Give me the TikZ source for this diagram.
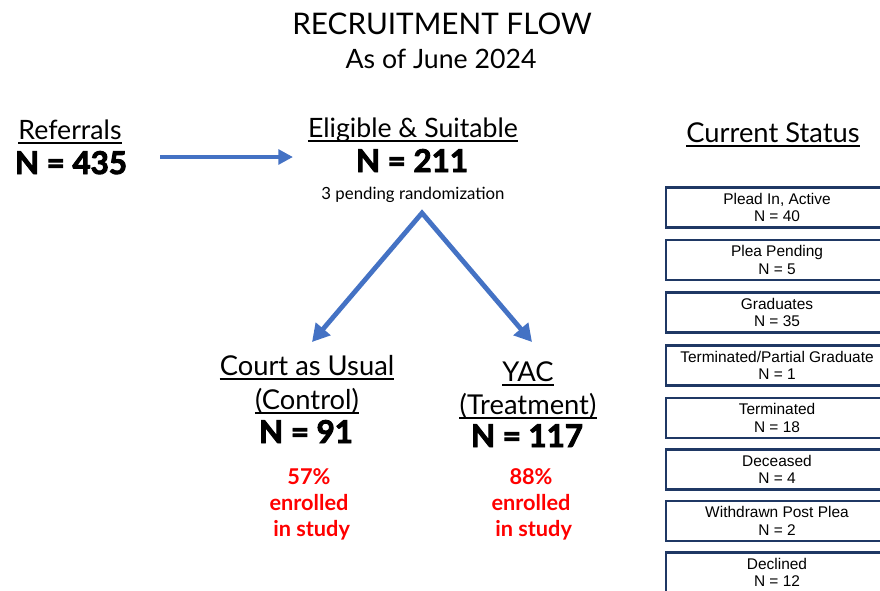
\documentclass[tikz,border=0pt]{standalone}
\usepackage{fontspec}
\setmainfont{Lato}
\newfontfamily\heavyfont{Lato}[BoldFeatures={FakeBold=3}]
\newfontfamily\arialf{Liberation Sans}
\usetikzlibrary{arrows.meta}
\definecolor{arrowblue}{HTML}{4472C4}
\definecolor{boxnavy}{HTML}{1F3864}
\definecolor{redtxt}{HTML}{FF0000}
\begin{document}
\begin{tikzpicture}[x=0.75pt,y=-0.75pt,
  titletext/.style={font=\fontsize{22.3}{25}\selectfont, inner sep=0, anchor=base},
  headtext/.style={font=\fontsize{20.5}{24}\selectfont, inner sep=0, anchor=base},
  counttext/.style={font=\heavyfont\fontsize{23.5}{27}\selectfont\bfseries, inner sep=0, anchor=base},
  notetext/.style={font=\fontsize{12.6}{15}\selectfont, inner sep=0, anchor=base},
  pcttext/.style={font=\fontsize{16.3}{19.5}\selectfont\bfseries, text=redtxt, align=center, inner sep=0, anchor=base},
  statusbox/.style={draw=boxnavy, line width=1.9pt, minimum width=166.5pt, minimum height=30pt, align=center, font=\arialf\fontsize{11.6}{13}\selectfont, inner sep=0},
  flowline/.style={draw=arrowblue, line width=3pt, -{Triangle[length=11pt,width=11pt]}},
  splitline/.style={draw=arrowblue, line width=3.6pt, line join=miter, {Triangle[length=13pt,width=14pt]}-{Triangle[length=13pt,width=14pt]}},
  uline/.style={line width=1.1pt}
]
\useasboundingbox (0,0) rectangle (880,590);
\clip (0,0) rectangle (880,590);

% title
\node[titletext] (title) at (442,34) {RECRUITMENT FLOW};
\node[titletext, font=\fontsize{20}{24}\selectfont] (subtitle) at (441,68) {As of June 2024};

% referrals
\node[headtext, font=\fontsize{20}{24}\selectfont] (ref) at (70,139) {Referrals};
\node[counttext] (refn) at (71,174) {N = 435};

% eligible
\node[headtext, font=\fontsize{20}{24}\selectfont] (elig) at (413,137) {Eligible \& Suitable};
\node[counttext] (elign) at (412,172) {N = 211};
\node[notetext] (pend) at (413,199) {3 pending randomization};

% control
\node[headtext] (cau) at (307,375) {Court as Usual};
\node[headtext] (ctrl) at (307,409) {(Control)};
\node[counttext] (ctrln) at (306,443) {N = 91};
\node[pcttext] (ctrlp) at (309,536) {57\%\\enrolled\\\ in study};

% treatment
\node[headtext] (yac) at (528,381) {YAC};
\node[headtext] (trt) at (528,414) {(Treatment)};
\node[counttext] (trtn) at (527,447) {N = 117};
\node[pcttext] (trtp) at (531,536) {88\%\\enrolled\\\ in study};

% current status
\node[headtext] (cur) at (773,142) {Current Status};

% underlines
\foreach \n in {ref,elig,cau,ctrl,yac,trt,cur}{
  \draw[uline] ([yshift=-3pt]\n.base west) -- ([yshift=-3pt]\n.base east);
}

% arrows
\coordinate (a0) at (160,157);
\coordinate (a1) at (293,157);
\coordinate (apex) at (422,213);
\coordinate (lt) at (312,342);
\coordinate (rt) at (532,342);
\draw[flowline] (a0) -- (a1);
\draw[splitline] (lt) -- (apex) -- (rt);

% status boxes
\node[statusbox] (s1) at (777,207.5) {Plead In, Active\\N = 40};
\node[statusbox] (s2) at (777,260) {Plea Pending\\N = 5};
\node[statusbox] (s3) at (777,312.5) {Graduates\\N = 35};
\node[statusbox] (s4) at (777,365.5) {Terminated/Partial Graduate\\N = 1};
\node[statusbox] (s5) at (777,418) {Terminated\\N = 18};
\node[statusbox] (s6) at (777,469.5) {Deceased\\N = 4};
\node[statusbox] (s7) at (777,521) {Withdrawn Post Plea\\N = 2};
\node[statusbox] (s8) at (777,572.5) {Declined\\N = 12};
\end{tikzpicture}
\end{document}
